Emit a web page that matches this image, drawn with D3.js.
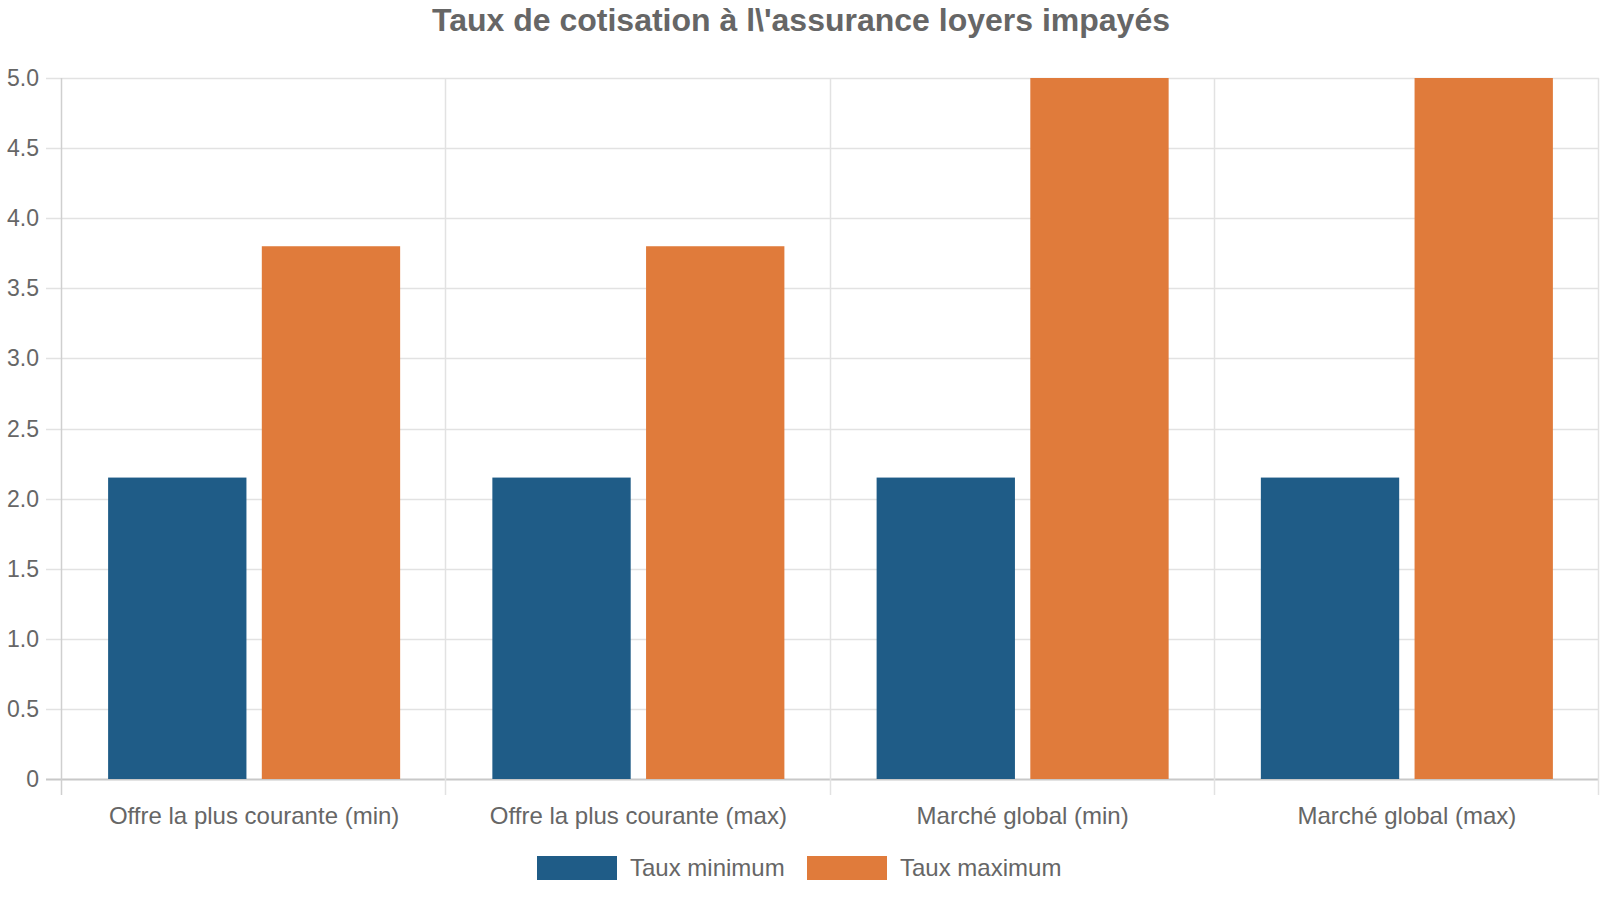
<!DOCTYPE html>
<html>
<head>
<meta charset="utf-8">
<script src="https://cdn.jsdelivr.net/npm/d3@7"></script>
<style>
  body { margin: 0; background: #fff; }
  text { font-family: "Liberation Sans", Arial, sans-serif; fill: #666; }
</style>
</head>
<body>
<div id="chart"></div>
<script>
const categories = ["Offre la plus courante (min)", "Offre la plus courante (max)", "Marché global (min)", "Marché global (max)"];
const seriesNames = ["Taux minimum", "Taux maximum"];
const tauxMinimum = [2.15, 2.15, 2.15, 2.15];
const tauxMaximum = [3.8, 3.8, 5.0, 5.0];
const yTicks = [0, 0.5, 1.0, 1.5, 2.0, 2.5, 3.0, 3.5, 4.0, 4.5, 5.0];
const colors = ["#1f5c87", "#e07b3b"];

const width = 1600, height = 900;
const margin = {top: 78, right: 1, bottom: 121, left: 62};
const innerW = width - margin.left - margin.right;
const innerH = height - margin.top - margin.bottom;

const svg = d3.select("#chart").append("svg")
    .attr("width", width)
    .attr("height", height);

svg.append("text")
    .attr("x", 801)
    .attr("y", 31)
    .attr("text-anchor", "middle")
    .style("font-size", "32px")
    .style("font-weight", "bold")
    .text("Taux de cotisation à l\\'assurance loyers impayés");

const g = svg.append("g")
    .attr("transform", `translate(${margin.left},${margin.top})`);

const x0 = d3.scaleBand()
    .domain(categories)
    .range([0, innerW])
    .padding(0);

const x1 = d3.scaleBand()
    .domain(seriesNames)
    .range([0, x0.bandwidth()])
    .paddingInner(0.1)
    .paddingOuter(0.3);

const y = d3.scaleLinear()
    .domain([0, 5])
    .range([innerH, 0]);

// horizontal grid
g.selectAll(".hgrid")
    .data(yTicks)
    .enter().append("line")
    .attr("class", "hgrid")
    .attr("x1", -16)
    .attr("x2", innerW)
    .attr("y1", d => Math.round(y(d)) + 0.5)
    .attr("y2", d => Math.round(y(d)) + 0.5)
    .attr("stroke", d => d === 0 ? "#c8c8c8" : "#e2e2e2")
    .attr("stroke-width", d => d === 0 ? 2 : 1.5);

// vertical grid at category boundaries
const vlines = categories.map(c => x0(c)).concat([innerW]);
g.selectAll(".vgrid")
    .data(vlines)
    .enter().append("line")
    .attr("class", "vgrid")
    .attr("x1", d => Math.round(d) - 0.5)
    .attr("x2", d => Math.round(d) - 0.5)
    .attr("y1", 0)
    .attr("y2", innerH + 16)
    .attr("stroke", (d, i) => i === 0 ? "#cfcfcf" : "#e2e2e2")
    .attr("stroke-width", 1.5);

// y labels
g.selectAll(".ylab")
    .data(yTicks)
    .enter().append("text")
    .attr("class", "ylab")
    .attr("x", -23)
    .attr("y", d => y(d))
    .attr("dy", "0.35em")
    .attr("text-anchor", "end")
    .style("font-size", "23px")
    .text(d => d === 0 ? "0" : d3.format(".1f")(d));

// x labels
g.selectAll(".xlab")
    .data(categories)
    .enter().append("text")
    .attr("class", "xlab")
    .attr("x", d => x0(d) + x0.bandwidth() / 2)
    .attr("y", innerH + 45)
    .attr("text-anchor", "middle")
    .style("font-size", "24px")
    .text(d => d);

// bars
const series = [tauxMinimum, tauxMaximum];
const groups = g.selectAll(".cat")
    .data(categories)
    .enter().append("g")
    .attr("class", "cat")
    .attr("transform", d => `translate(${x0(d)},0)`);

groups.selectAll("rect")
    .data((d, i) => seriesNames.map((s, j) => ({s: s, v: series[j][i], c: colors[j]})))
    .enter().append("rect")
    .attr("x", d => x1(d.s))
    .attr("width", x1.bandwidth())
    .attr("y", d => y(d.v))
    .attr("height", d => innerH - y(d.v))
    .attr("fill", d => d.c);

// legend
const legendItems = [
    {name: seriesNames[0], color: colors[0], x: 537},
    {name: seriesNames[1], color: colors[1], x: 807}
];
const legend = svg.selectAll(".legend")
    .data(legendItems)
    .enter().append("g")
    .attr("class", "legend")
    .attr("transform", d => `translate(${d.x},856)`);

legend.append("rect")
    .attr("width", 80)
    .attr("height", 24)
    .attr("fill", d => d.color);

legend.append("text")
    .attr("x", 93)
    .attr("y", 20)
    .style("font-size", "24px")
    .text(d => d.name);
</script>
</body>
</html>
